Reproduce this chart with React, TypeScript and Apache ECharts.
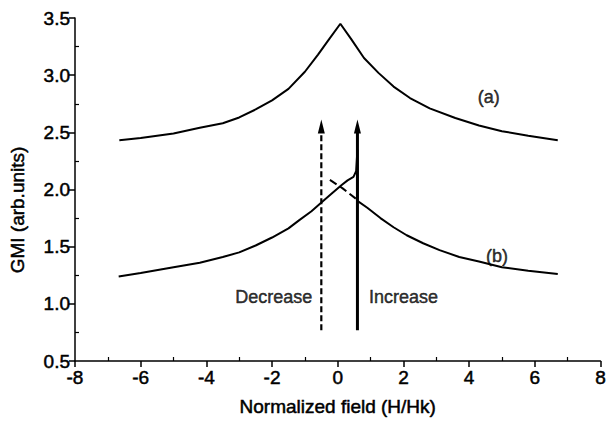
import React, { useEffect, useRef } from "react";
import * as echarts from "echarts";

// Curve (a)
const curveA: [number, number][] = [
  [-6.65, 2.43], [-6, 2.45], [-5, 2.49], [-4.2, 2.54], [-3.5, 2.58], [-3, 2.63],
  [-2.5, 2.7], [-2, 2.78], [-1.5, 2.88], [-1, 3.03], [-0.6, 3.18], [-0.3, 3.3],
  [0.08, 3.45], [0.4, 3.32], [0.8, 3.15], [1.24, 3.02], [1.7, 2.9], [2.2, 2.8],
  [2.8, 2.71], [3.58, 2.625], [4.3, 2.56], [5, 2.51], [5.8, 2.47], [6.7, 2.43],
];

// Curve (b), increasing field (solid)
const curveB: [number, number][] = [
  [-6.67, 1.24], [-6, 1.27], [-5, 1.32], [-4.2, 1.36], [-3.5, 1.41], [-3, 1.45],
  [-2.5, 1.51], [-2, 1.58], [-1.5, 1.66], [-1.18, 1.73], [-0.8, 1.81], [-0.48, 1.89],
  [-0.2, 1.96], [0.12, 2.04], [0.3, 2.08], [0.48, 2.11], [0.56, 2.16], [0.6, 2.35],
  [0.6, 1.9], [0.9, 1.84], [1.3, 1.75], [1.7, 1.67], [2.1, 1.6], [2.6, 1.53],
  [3.1, 1.47], [3.7, 1.41], [4.3, 1.37], [5, 1.32], [5.8, 1.29], [6.7, 1.26],
];

// Curve (b), decreasing field (dashed part)
const curveBDec: [number, number][] = [
  [0.55, 1.92], [0.15, 2.01], [-0.27, 2.09],
];

// Arrows: [x, yStart, yEnd]
const arrowDecrease: [number, number, number] = [-0.5, 0.77, 2.55];
const arrowIncrease: [number, number, number] = [0.6, 0.77, 2.55];

const xTicks = { min: -8, max: 8, interval: 2 };
const yTicks = { min: 0.5, max: 3.5, interval: 0.5 };

const annotations = [
  { name: "(a)", value: [4.6, 2.81] },
  { name: "(b)", value: [4.85, 1.42] },
  { name: "Decrease", value: [-1.95, 1.06] },
  { name: "Increase", value: [2.0, 1.06] },
];

const FONT = "Liberation Sans, Arial, sans-serif";
const BOLDISH = { textBorderColor: "#000", textBorderWidth: 0.5 };

export default function App() {
  const ref = useRef<HTMLDivElement>(null);
  useEffect(() => {
    if (!ref.current) return;
    const chart = echarts.init(ref.current, undefined, { renderer: "svg" });
    const arrowSeries = (a: [number, number, number], dashed: boolean, width: number) => ({
      type: "line",
      data: [
        { value: [a[0], a[1]], symbol: "none" },
        { value: [a[0], a[2]], symbol: "triangle", symbolSize: [7, 14] },
      ],
      showSymbol: true,
      lineStyle: { color: "#000", width, type: dashed ? [6, 3] : "solid" },
      itemStyle: { color: "#000" },
      z: 3,
    });
    chart.setOption({
      animation: false,
      backgroundColor: "#fff",
      textStyle: { fontFamily: FONT, color: "#000" },
      grid: { left: 75, right: 6, top: 18, bottom: 64 },
      xAxis: [
        {
          type: "value",
          position: "bottom",
          min: xTicks.min,
          max: xTicks.max,
          interval: xTicks.interval,
          splitLine: { show: false },
          axisLine: { onZero: false, lineStyle: { color: "#000", width: 1.5 } },
          axisTick: { show: true, length: 6, lineStyle: { color: "#000", width: 1.5 } },
          axisLabel: { color: "#000", fontSize: 19, fontFamily: FONT, margin: 7, ...BOLDISH },
          name: "Normalized field (H/Hk)",
          nameLocation: "middle",
          nameGap: 36,
          nameTextStyle: { color: "#000", fontSize: 19, fontFamily: FONT, ...BOLDISH },
        },
        {
          type: "value",
          position: "bottom",
          min: xTicks.min,
          max: xTicks.max,
          interval: xTicks.interval,
          splitLine: { show: false },
          axisLine: { show: false, onZero: false },
          axisTick: { show: false, inside: true },
          axisLabel: { show: false },
          minorTick: { show: true, splitNumber: 2, length: 4, lineStyle: { color: "#000", width: 1.2 } },
        },
      ],
      yAxis: [
        {
          type: "value",
          position: "left",
          min: yTicks.min,
          max: yTicks.max,
          interval: yTicks.interval,
          splitLine: { show: false },
          axisLine: { show: true, onZero: false, lineStyle: { color: "#000", width: 1.5 } },
          axisTick: { show: true, length: 6, lineStyle: { color: "#000", width: 1.5 } },
          axisLabel: {
            color: "#000",
            fontSize: 19,
            fontFamily: FONT,
            margin: 5,
            formatter: (v: number) => v.toFixed(1),
            ...BOLDISH,
          },
        },
        {
          type: "value",
          position: "left",
          min: yTicks.min,
          max: yTicks.max,
          interval: yTicks.interval,
          splitLine: { show: false },
          axisLine: { show: false, onZero: false },
          axisTick: { show: false, inside: true },
          axisLabel: { show: false },
          minorTick: { show: true, splitNumber: 2, length: 4, lineStyle: { color: "#000", width: 1.2 } },
        },
      ],
      graphic: [
        {
          type: "text",
          x: 17,
          y: 210,
          rotation: Math.PI / 2,
          style: {
            text: "GMI (arb.units)",
            fontSize: 19,
            fontFamily: FONT,
            fill: "#000",
            stroke: "#000",
            lineWidth: 0.5,
            align: "center",
            verticalAlign: "middle",
          },
        },
      ],
      series: [
        {
          type: "line",
          data: curveA,
          showSymbol: false,
          symbol: "none",
          lineStyle: { color: "#000", width: 2 },
        },
        {
          type: "line",
          data: curveB,
          showSymbol: false,
          symbol: "none",
          lineStyle: { color: "#000", width: 2 },
        },
        {
          type: "line",
          data: curveBDec,
          showSymbol: false,
          symbol: "none",
          lineStyle: { color: "#000", width: 2, type: [8, 4] },
        },
        arrowSeries(arrowDecrease, true, 2.2),
        arrowSeries(arrowIncrease, false, 3),
        {
          type: "scatter",
          data: annotations,
          symbolSize: 1,
          itemStyle: { color: "rgba(0,0,0,0)" },
          label: {
            show: true,
            position: "inside",
            formatter: "{b}",
            color: "#000",
            fontSize: 18,
            fontFamily: FONT,
            ...BOLDISH,
          },
          z: 4,
        },
      ],
    });
    return () => chart.dispose();
  }, []);
  return (
    <div
      ref={ref}
      style={{ position: "fixed", left: 0, top: 0, width: 609, height: 425, background: "#fff" }}
    />
  );
}
